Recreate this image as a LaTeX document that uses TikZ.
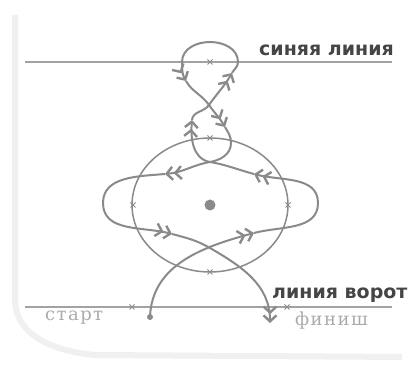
\documentclass[tikz,border=0pt]{standalone}
\usepackage{fontspec}
\setmainfont{Liberation Serif}
\newfontfamily\labelsans{DejaVu Sans}
\newfontfamily\postserif[LetterSpace=8]{DejaVu Serif}
\usetikzlibrary{arrows.meta}

\definecolor{routegray}{HTML}{8A8A8A}
\definecolor{linegray}{HTML}{A2A2A2}
\definecolor{textgray}{HTML}{454545}
\definecolor{softgray}{HTML}{ABABAB}
\definecolor{scangray}{HTML}{F0F0F0}

\begin{document}
\begin{tikzpicture}[x=1pt, y=1pt,
  route/.style={draw=routegray, line width=2pt,
    -{Straight Barb[length=6pt,width=13pt,line width=2.4pt]
      Straight Barb[length=6pt,width=13pt,line width=2.4pt]}},
  rinkline/.style={draw=linegray, line width=1.1pt},
  ring/.style={draw=routegray, line width=1.5pt},
  tick/.style={draw=routegray, line width=0.8pt},
  zone/.style={font=\labelsans\bfseries\fontsize{19}{19}\selectfont,
               text=textgray, inner sep=0pt},
  post/.style={font=\postserif\fontsize{18}{18}\selectfont, text=softgray, inner sep=0pt},
]
\useasboundingbox (0,0) rectangle (408,369);

% ---- след скана ----
\draw[scangray, line width=6pt] (15,354) -- (15,70)
  to[out=270,in=175] (95,14) -- (402,12);

% ---- линии площадки ----
\coordinate (blueL) at (25,307);
\coordinate (blueR) at (392,307);
\coordinate (goalL) at (25,62);
\coordinate (goalR) at (392,62);
\draw[rinkline] (blueL) -- (blueR);
\draw[rinkline] (goalL) -- (goalR);

\node[zone, anchor=east] (bluelbl) at (394,319) {синяя линия};
\node[zone, anchor=west] (goallbl) at (272,74)  {линия ворот};
\node[post, anchor=west] (startlbl)  at (45,51)  {старт};
\node[post, anchor=west] (finishlbl) at (295,48) {финиш};

% ---- круг ----
\coordinate (centre) at (210,164);
\draw[ring] (centre) ellipse [x radius=78, y radius=67];
\fill[routegray] (centre) circle [radius=5.5];

% ---- отметки ----
\foreach \x/\y in {210/307, 210/231, 133/164, 288/164, 210/97, 132/62, 287/62}
  \draw[tick] (\x-2.5,\y-2.5) -- (\x+2.5,\y+2.5) (\x-2.5,\y+2.5) -- (\x+2.5,\y-2.5);

% ---- опорные точки маршрута ----
\coordinate (start)  at (150,52);
\coordinate (cross)  at (210,121);
\coordinate (a1)     at (254,136);
\coordinate (rlobe)  at (318,166);
\coordinate (a2)     at (254,195);
\coordinate (knot)   at (210,207);
\coordinate (a3)     at (192,249);
\coordinate (waist)  at (209,264);
\coordinate (a4)     at (232,296);
\coordinate (tright) at (238,307);
\coordinate (ttop)   at (210,327);
\coordinate (tleft)  at (182,307);
\coordinate (a5)     at (186,288);
\coordinate (a6)     at (225,242);
\coordinate (sright) at (231,226);
\coordinate (a7)     at (165,195);
\coordinate (llobe)  at (103,166);
\coordinate (a8)     at (172,135);
\coordinate (finish) at (270,46);

% ---- маршрут ----
\fill[routegray] (start) circle [radius=3];
\draw[route] (start) to[out=88,in=195] (a1);
\draw[route] (a1) to[out=15,in=270] (rlobe) to[out=90,in=345] (a2);
\draw[route] (a2) to[out=165,in=350] (knot) to[out=170,in=265] (a3);
\draw[route] (a3) to[out=85,in=235] (waist) to[out=55,in=240] (a4);
\draw[route] (a4) to[out=60,in=270] (tright) to[out=90,in=0] (ttop)
  to[out=180,in=90] (tleft) to[out=270,in=120] (a5);
\draw[route] (a5) to[out=300,in=125] (waist) to[out=305,in=120] (a6);
\draw[route] (a6) to[out=300,in=90] (sright) to[out=270,in=10] (knot)
  to[out=190,in=5] (a7);
\draw[route] (a7) to[out=185,in=90] (llobe) to[out=270,in=165] (a8);
\draw[route] (a8) to[out=345,in=150] (cross) to[out=330,in=90] (finish);

\end{tikzpicture}
\end{document}
